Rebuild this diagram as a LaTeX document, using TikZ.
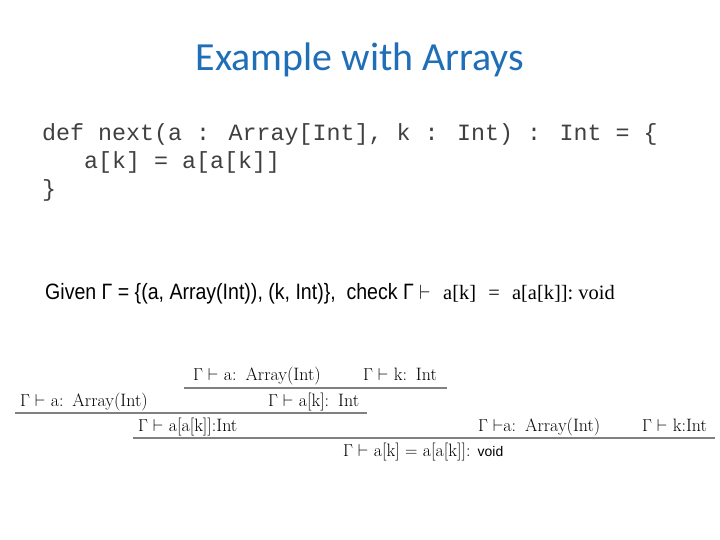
\documentclass[tikz,border=0pt]{standalone}
\usepackage{fontspec}
\newfontfamily\titlefont{Carlito}
\newfontfamily\codefont{Liberation Mono}
\newfontfamily\arialfont{Liberation Sans}
\newfontfamily\timesfont{Liberation Serif}
\definecolor{titleblue}{RGB}{31,110,184}
\usetikzlibrary{positioning}

\begin{document}
\begin{tikzpicture}[
  x=1bp, y=-1bp,
  every node/.style={inner sep=0pt, anchor=base west},
  title/.style={anchor=base, font=\titlefont\fontsize{40}{48}\selectfont, text=titleblue},
  code/.style={font=\codefont\fontsize{23.4}{28}\selectfont, text=black!75},
  judg/.style={font=\fontsize{18}{22}\selectfont},
  bar/.style={draw=black!50, line width=1.6bp}
]
\fill[white] (0,0) rectangle (720,540);
\useasboundingbox (0,0) rectangle (720,540);

\node[title] (title) at (360,71) {Example with Arrays};

% program text
\node[code] (codeA) at (42,141) {def next(a : Array[Int], k : Int) : Int = \{};
\node[code] (codeB) at (84,169) {a[k] = a[a[k]]};
\node[code] (codeC) at (42,197) {\}};

% the goal
\node[font=\arialfont\fontsize{22.3}{26}\selectfont] (ctx) at (45,299)
  {\scalebox{0.88}[1]{Given Γ = \{(a, Array(Int)), (k, Int)\},\ \ check Γ $\vdash$}};
\node[font=\timesfont\fontsize{20.5}{24}\selectfont] (goal) at (443,299)
  {a[k]\hspace{0.6em}=\hspace{0.6em}a[a[k]]:\hspace{0.25em}void};

% derivation
\node[judg] (arrA) at (193,380) {$\Gamma\vdash$ a:\enspace Array(Int)};
\node[judg] (idxK) at (363,380) {$\Gamma\vdash$ k:\enspace Int};
\coordinate (barAl) at (184,388);
\coordinate (barAr) at (447,388);
\draw[bar] (barAl) -- (barAr);

\node[judg] (arrB) at (20,406) {$\Gamma\vdash$ a:\enspace Array(Int)};
\node[judg] (readK) at (268,406) {$\Gamma\vdash$ a[k]:\enspace Int};
\coordinate (barBl) at (15,413);
\coordinate (barBr) at (367,413);
\draw[bar] (barBl) -- (barBr);

\node[judg] (readAK) at (138,431) {$\Gamma\vdash$ a[a[k]]:Int};
\node[judg] (arrC) at (478,431) {$\Gamma\vdash$a:\enspace Array(Int)};
\node[judg] (idxC) at (642,431) {$\Gamma\vdash$ k:Int};
\coordinate (barCl) at (133,438);
\coordinate (barCr) at (715,438);
\draw[bar] (barCl) -- (barCr);

\node[judg] (assign) at (343,456)
  {$\Gamma\vdash$ a[k] $=$ a[a[k]]:\hspace{0.4em}{\arialfont\fontsize{14}{16}\selectfont void}};
\end{tikzpicture}
\end{document}
